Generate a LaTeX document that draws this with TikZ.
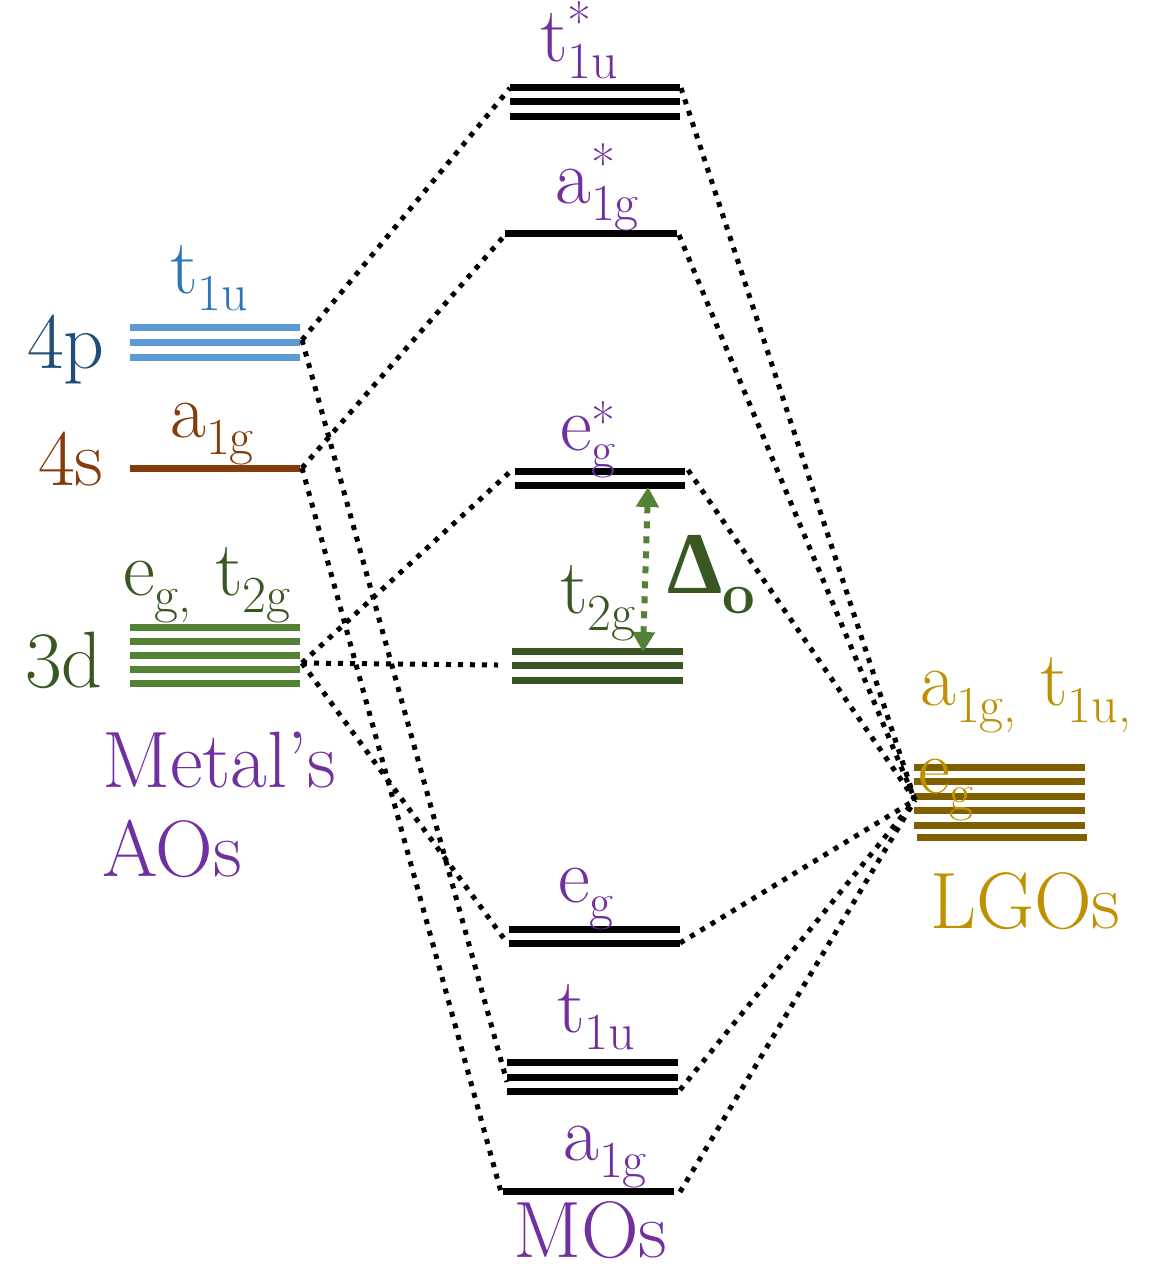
\documentclass[tikz,border=0pt]{standalone}
\usepackage{fontspec}
\newfontfamily\grk{Liberation Serif}
\usetikzlibrary{arrows.meta}
\definecolor{pblue}{HTML}{5B9BD5}
\definecolor{lblue}{HTML}{2E75B6}
\definecolor{dblue}{HTML}{1F4E79}
\definecolor{brn}{HTML}{843C0C}
\definecolor{lgreen}{HTML}{548235}
\definecolor{dgreen}{HTML}{385723}
\definecolor{mgreen}{HTML}{375623}
\definecolor{purp}{HTML}{7030A0}
\definecolor{lgo}{HTML}{7F6000}
\definecolor{gold}{HTML}{BF9000}
\newcommand{\scrsz}{\fontsize{52}{52}\selectfont}
\newcommand{\mlab}[2]{#1\raisebox{-0.22em}{\scrsz #2}}
\newcommand{\slab}[2]{#1\raisebox{-0.22em}{\scrsz\shortstack[l]{*\\#2}}}
\begin{document}
\begin{tikzpicture}[x=1pt,y=-1pt,
  lvl/.style={line width=7pt},
  conn/.style={line width=5pt, dash pattern=on 5pt off 7pt},
  lab/.style={inner sep=0pt, anchor=base west, font=\fontsize{78}{80}\selectfont},
  big/.style={inner sep=0pt, anchor=base west, font=\fontsize{80}{84}\selectfont}]
\useasboundingbox (0,0) rectangle (1158,1270);

% ---- metal AOs
\foreach \y in {327,342,357} \draw[lvl,pblue] (130,\y) -- (300,\y);
\draw[lvl,brn] (130,468) -- (300,468);
\foreach \y in {627,641,655,669,683} \draw[lvl,lgreen] (130,\y) -- (300,\y);

% ---- MOs
\foreach \y in {87,101,116} \draw[lvl,black] (510,\y) -- (680,\y);
\draw[lvl,black] (505,233) -- (677,233);
\foreach \y in {471,485} \draw[lvl,black] (515,\y) -- (685,\y);
\foreach \y in {651,665,680} \draw[lvl,mgreen] (512,\y) -- (683,\y);
\foreach \y in {929,943} \draw[lvl,black] (509,\y) -- (680,\y);
\foreach \y in {1062,1077,1091} \draw[lvl,black] (507,\y) -- (678,\y);
\draw[lvl,black] (503,1191) -- (674,1191);

% ---- LGOs
\foreach \y in {767,781,796,810,825} \draw[lvl,lgo] (914,\y) -- (1085,\y);
\draw[lvl,lgo] (917,837) -- (1087,837);

% ---- connector points
\coordinate (p4R) at (302,340);
\coordinate (s4R) at (302,468);
\coordinate (d3R) at (302,663);
\coordinate (tuSL) at (510,88);
\coordinate (tuSR) at (681,88);
\coordinate (agSL) at (505,235);
\coordinate (agSR) at (679,235);
\coordinate (egSL) at (512,470);
\coordinate (egSR) at (688,470);
\coordinate (t2gL) at (498,665);
\coordinate (egL) at (505,940);
\coordinate (egR) at (680,943);
\coordinate (tuL) at (507,1082);
\coordinate (tuR) at (680,1090);
\coordinate (agL) at (501,1192);
\coordinate (agR) at (680,1192);
\coordinate (lgo) at (915,800);

\draw[conn] (p4R) -- (tuSL);
\draw[conn] (p4R) -- (tuL);
\draw[conn] (s4R) -- (agSL);
\draw[conn] (s4R) -- (agL);
\draw[conn] (d3R) -- (egSL);
\draw[conn] (d3R) -- (t2gL);
\draw[conn] (d3R) -- (egL);
\foreach \c in {tuSR,agSR,egSR,egR,tuR,agR} \draw[conn] (\c) -- (lgo);

% ---- Delta_o arrow
\coordinate (dTop) at (648,487);
\coordinate (dBot) at (643,652);
\draw[lgreen, line width=6pt, dash pattern=on 7pt off 8pt,
  {Triangle[length=20pt,width=22pt]}-{Triangle[length=20pt,width=22pt]}] (dBot) -- (dTop);

% ---- labels
\node[big,dblue] (l4p) at (27,368) {4p};
\node[lab,lblue] (l4pt) at (170,293) {\mlab{t}{1u}};
\node[big,brn] (l4s) at (38,485) {4s};
\node[lab,brn] (l4sa) at (170,437) {\mlab{a}{1g}};
\node[big,dgreen] (l3d) at (25,687) {3d};
\node[lab,dgreen] (l3dt) at (123,595) {\mlab{e}{g,} \mlab{t}{2g}};
\node[big,purp] (lmet) at (102,787) {Metal’s};
\node[big,purp] (laos) at (102,876) {AOs};

\node[lab,purp] (ltuS) at (540,61) {\slab{t}{1u}};
\node[lab,purp] (lagS) at (555,203) {\slab{a}{1g}};
\node[lab,purp] (legS) at (560,450) {\slab{e}{g}};
\node[lab,dgreen] (lt2g) at (560,613) {\mlab{t}{2g}};
\node[inner sep=0pt, anchor=base west, dgreen] (ldel) at (667,593)
  {{\grk\bfseries\fontsize{88}{88}\selectfont Δ}\raisebox{-20pt}{\bfseries\fontsize{58}{58}\selectfont o}};
\node[lab,purp] (leg) at (558,902) {\mlab{e}{g}};
\node[lab,purp] (ltu) at (557,1032) {\mlab{t}{1u}};
\node[lab,purp] (lag) at (563,1160) {\mlab{a}{1g}};
\node[big,purp] (lmos) at (513,1257) {MOs};

\node[lab,gold] (llgo1) at (920,705) {\mlab{a}{1g,} \mlab{t}{1u,}};
\node[lab,gold] (llgo2) at (918,793) {\mlab{e}{g}};
\node[big,gold] (llgo3) at (930,928) {LGOs};
\end{tikzpicture}
\end{document}
